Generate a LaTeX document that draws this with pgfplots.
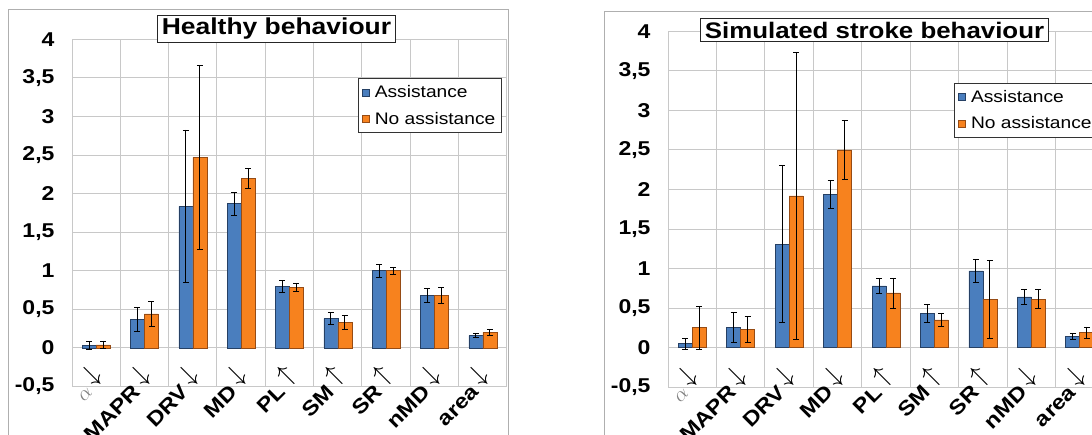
\documentclass[border=0pt]{standalone}
\usepackage{pgfplots}
\usepackage{pgfplotstable}
\pgfplotsset{compat=1.18}
\usepackage{fontspec}
\setmainfont[FakeStretch=1.15]{Liberation Sans}

\definecolor{barblue}{RGB}{74,126,190}
\definecolor{bluedge}{RGB}{38,64,100}
\definecolor{barorange}{RGB}{247,130,30}
\definecolor{orangedge}{RGB}{150,75,20}
\definecolor{gridgray}{RGB}{200,200,200}
\definecolor{framegray}{RGB}{175,175,175}

\newcommand{\dn}{\hspace{5pt}\raisebox{6pt}{\scalebox{1.3}{$\downarrow$}}}
\newcommand{\up}{\hspace{5pt}\raisebox{6pt}{\scalebox{1.3}{$\uparrow$}}}

\pgfplotstableread{
x A Aerr N Nerr
0 0.03 0.05 0.04 0.05
1 0.37 0.15 0.44 0.16
2 1.835 0.99 2.47 1.19
3 1.87 0.15 2.20 0.13
4 0.80 0.08 0.78 0.05
5 0.38 0.08 0.33 0.09
6 1.00 0.08 1.00 0.05
7 0.68 0.09 0.68 0.10
8 0.16 0.03 0.20 0.04
}\healthy

\pgfplotstableread{
x A Aerr N Nerr
0 0.05 0.07 0.25 0.27
1 0.25 0.19 0.23 0.16
2 1.31 0.99 1.92 1.82
3 1.94 0.18 2.50 0.37
4 0.78 0.10 0.69 0.19
5 0.43 0.11 0.35 0.08
6 0.97 0.15 0.61 0.49
7 0.64 0.10 0.61 0.12
8 0.14 0.04 0.19 0.07
}\stroke

\pgfplotsset{
  panel/.style={
    scale only axis,
    ymin=-0.5, ymax=4, xmin=-0.5, xmax=8.5,
    ybar=0pt, bar width=14pt,
    legend image code/.code={\draw[##1,line width=0.6pt] (0pt,-3.5pt) rectangle (7pt,3.5pt); \path (10pt,0pt);},
    xtick={0,...,8},
    xticklabels={{\textcolor{gray}{$\alpha$}\dn},{MAPR\dn},{DRV\dn},{MD\dn},{PL\up},{SM\up},{SR\up},{nMD\dn},{area\dn}},
    minor xtick={-0.5,0.5,...,8.5},
    xminorgrids, ymajorgrids,
    major tick length=0pt, minor tick length=0pt,
    ytick={-0.5,0,0.5,1,1.5,2,2.5,3,3.5,4},
    yticklabels={{-0,5},0,{0,5},1,{1,5},2,{2,5},3,{3,5},4},
    grid style={draw=gridgray, line width=1pt},
    minor grid style={draw=gridgray, line width=1pt},
    axis line style={draw=gridgray, line width=1pt},
    yticklabel style={font=\bfseries\fontsize{20}{20}\selectfont, xshift=-14pt},
    xticklabel style={font=\bfseries\fontsize{20.5}{20.5}\selectfont, inner sep=0pt, xshift=10.5pt, yshift=6.3pt, rotate=45, anchor=base east},
    legend style={draw=black!80, line width=0.8pt, font=\fontsize{16.7}{20}\selectfont,
      legend cell align=left, row sep=9pt, inner xsep=4pt, inner ysep=5pt, fill=white},
    error bars/y dir=both, error bars/y explicit,
    error bars/error bar style={black, line width=0.8pt},
    error bars/error mark options={rotate=90, black, mark size=3pt, line width=0.8pt},
  }
}

\begin{document}
\begin{tikzpicture}
\path[use as bounding box] (0pt,0pt) rectangle (1092pt,434pt);
\clip (0pt,0pt) rectangle (1092pt,434pt);
\draw[framegray, line width=1pt] (8pt,-10pt) rectangle (508pt,424pt);
\draw[framegray, line width=1pt] (604pt,-10pt) rectangle (1120pt,422.3pt);

\begin{axis}[panel, at={(72pt,47.5pt)}, anchor=south west, width=435pt, height=347.2pt,
  legend style={at={(rel axis cs:0.657,0.888)}, anchor=north west}]
\addplot[fill=barblue, draw=bluedge, line width=0.6pt] table[x=x, y=A, y error=Aerr] {\healthy};
\addplot[fill=barorange, draw=orangedge, line width=0.6pt] table[x=x, y=N, y error=Nerr] {\healthy};
\legend{Assistance, No assistance}
\end{axis}

\begin{axis}[panel, at={(668pt,47pt)}, anchor=south west, width=436pt, height=355.5pt,
  legend style={at={(rel axis cs:0.656,0.856)}, anchor=north west}]
\addplot[fill=barblue, draw=bluedge, line width=0.6pt] table[x=x, y=A, y error=Aerr] {\stroke};
\addplot[fill=barorange, draw=orangedge, line width=0.6pt] table[x=x, y=N, y error=Nerr] {\stroke};
\legend{Assistance, No assistance}
\end{axis}

\node[draw=black!85, fill=white, line width=0.8pt, inner xsep=4pt, inner ysep=3pt,
  font=\bfseries\fontsize{23}{23}\selectfont] at (276.5pt,405pt) {Healthy behaviour};
\node[draw=black!85, fill=white, line width=0.8pt, inner xsep=4pt, inner ysep=3pt,
  font=\bfseries\fontsize{22.5}{23}\selectfont] at (874.5pt,404pt) {Simulated stroke behaviour};
\end{tikzpicture}
\end{document}
